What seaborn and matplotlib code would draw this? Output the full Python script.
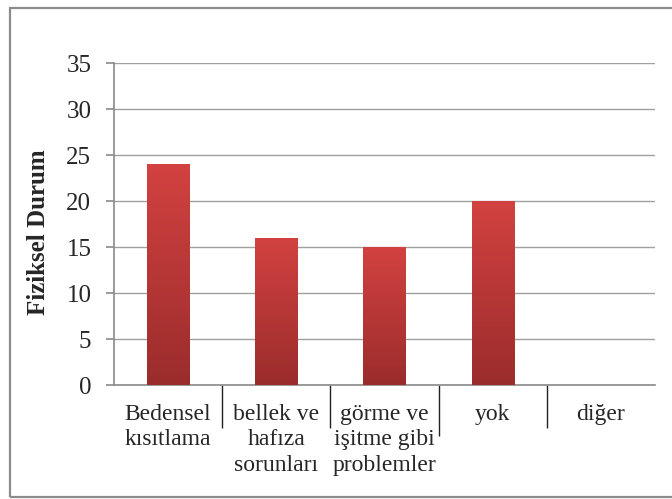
import numpy as np
import pandas as pd
import matplotlib
matplotlib.use("Agg")
import matplotlib.pyplot as plt
import seaborn as sns
from matplotlib.colors import LinearSegmentedColormap
from matplotlib.patches import Rectangle

categories = ["Bedensel\nkısıtlama", "bellek ve\nhafıza\nsorunları",
              "görme ve\nişitme gibi\nproblemler", "yok", "diğer"]
values = [24, 16, 15, 20, 0]
y_ticks = [0, 5, 10, 15, 20, 25, 30, 35]
y_label = "Fiziksel Durum"

sns.set_theme(style="white")
plt.rcParams['font.family'] = ['Liberation Serif', 'DejaVu Serif']

fig = plt.figure(figsize=(6.72, 4.99), dpi=100)
ax = fig.add_axes([114/672, 1-385/499, (655-114)/672, (385-63)/499])

df = pd.DataFrame({"cat": categories, "val": values})
sns.barplot(data=df, x="cat", y="val", color="#c03838", width=0.39, ax=ax,
            saturation=1, zorder=3)

cmap = LinearSegmentedColormap.from_list("g", ["#9b2c2c", "#d24240"])
grad = np.linspace(0, 1, 256).reshape(-1, 1)
for p in ax.patches:
    x0, y0 = p.get_x(), p.get_y()
    w, h = p.get_width(), p.get_height()
    if h <= 0:
        p.set_visible(False)
        continue
    p.set_facecolor("none")
    p.set_edgecolor("none")
    im = ax.imshow(grad, cmap=cmap, aspect="auto", origin="lower",
                   extent=[x0, x0 + w, y0, y0 + h], zorder=3)
    im.set_clip_path(p)

ax.set_xlim(-0.5, 4.5)
ax.set_ylim(0, 35)
ax.set_yticks(y_ticks)
ax.set_yticklabels([str(t) for t in y_ticks], fontsize=18)
ax.grid(axis="y", color="#a0a0a0", linewidth=1, zorder=0)
ax.grid(axis="x", visible=False)
ax.set_axisbelow(True)

for s in ["top", "right"]:
    ax.spines[s].set_visible(False)
for s in ["left", "bottom"]:
    ax.spines[s].set_color("#8a8a8a")
    ax.spines[s].set_linewidth(1.2)

ax.tick_params(axis="y", which="major", length=5.8, color="#8a8a8a", width=1.2,
               left=True, pad=10.5)
ax.set_xticks(range(len(categories)))
ax.set_xticklabels(categories, fontsize=17, linespacing=1.28, va="top")
ax.tick_params(axis="x", which="major", length=0, pad=13.5)
ax.set_xticks([0.5, 1.5, 2.5, 3.5], minor=True)
ax.tick_params(axis="x", which="minor", length=31, color="#222222", width=1,
               bottom=True)
ax.xaxis.get_minor_ticks()[2].tick1line.set_markersize(37)

ax.set_xlabel("")
ax.set_ylabel(y_label, fontsize=18, fontweight="bold")
ax.yaxis.set_label_coords(-0.118, 0.475)

fig.patches.append(Rectangle((10/672, 1-497/499), (700-10)/672, (497-8)/499,
                             transform=fig.transFigure, fill=False,
                             edgecolor="#8c8c8c", linewidth=1.6))

fig.savefig("out.png", dpi=100)
